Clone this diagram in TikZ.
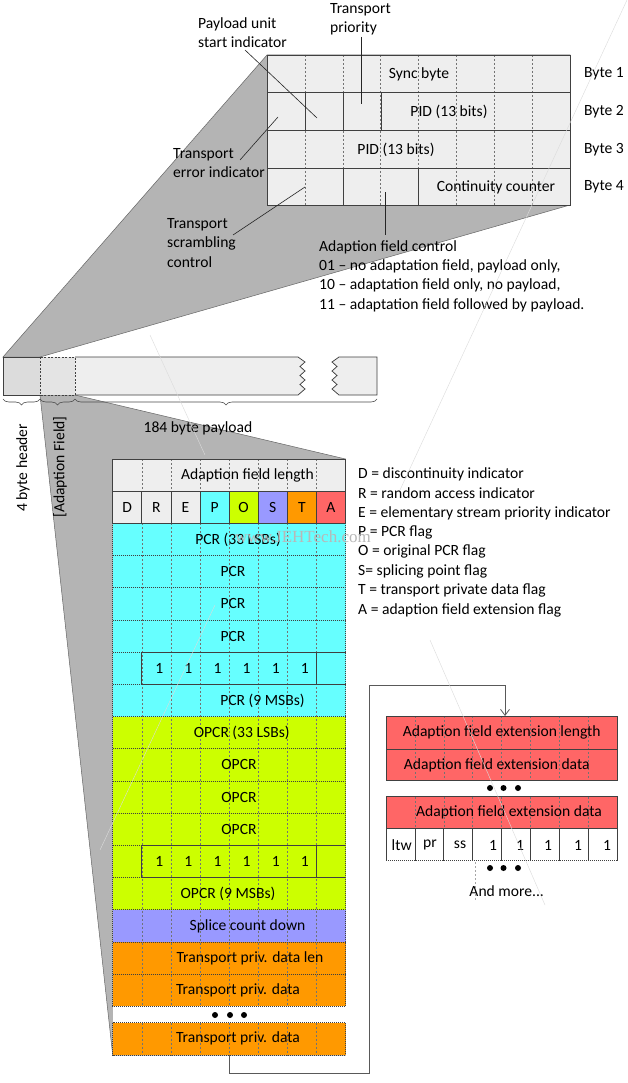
\documentclass[tikz,border=0pt]{standalone}
\usepackage{fontspec}
\setmainfont{Carlito}
\newfontfamily\wmfont{Liberation Serif}
\usetikzlibrary{decorations.pathreplacing,arrows.meta}
\definecolor{tblF}{HTML}{EEEEEE}
\definecolor{greyF}{HTML}{B4B4B4}
\definecolor{hdrF}{HTML}{DCDCDC}
\definecolor{afF}{HTML}{E4E4E4}
\definecolor{cyanF}{HTML}{66FFFF}
\definecolor{limeF}{HTML}{CCFF00}
\definecolor{lavF}{HTML}{9999FF}
\definecolor{orF}{HTML}{FF9900}
\definecolor{redF}{HTML}{FF6666}
\definecolor{lineC}{HTML}{404040}
\begin{document}
\begin{tikzpicture}[x=1pt,y=-1pt,
  every node/.style={inner sep=0pt, font=\fontsize{15.6}{19.3}\selectfont},
  lbl/.style={align=left, anchor=west},
  solidln/.style={draw=lineC, line width=0.75pt},
  colln/.style={draw=black!55, line width=0.5pt, dash pattern=on 2pt off 2pt},
  rowln/.style={draw=black!75, line width=0.7pt, dash pattern=on 1pt off 1pt},
  annot/.style={draw=black!85, line width=0.6pt},
  brc/.style={draw=black!70, line width=0.6pt, decorate, decoration={brace, amplitude=6pt, mirror}},
  conn/.style={draw=black!65, line width=0.8pt, -{Straight Barb[length=6pt,width=9pt]}},
  dotc/.style={circle, fill=black, minimum size=6pt, inner sep=0pt},
  polyln/.style={fill=greyF, draw=black!60, line width=0.5pt},
  wmline/.style={draw=black!14, line width=0.4pt},
]
\useasboundingbox (0,0) rectangle (627,1083);
\fill[white] (0,0) rectangle (627,1083);

% ---------- grey projection polygons ----------
\filldraw[polyln] (3,357) -- (267,55) -- (570,55) -- (570,205) -- (40,357) -- cycle;
\filldraw[polyln] (40,395) -- (75,395) -- (345.5,459) -- (345.5,1055) -- (112.7,1055) -- cycle;

% ---------- TS header table ----------
\fill[tblF] (267,55) rectangle (570,205);
\foreach \i in {1,...,7} \draw[colln] ({267+37.875*\i},55) -- ({267+37.875*\i},205);
\foreach \y in {92.7,130.5,168.3} \draw[solidln] (267,\y) -- (570,\y);
\draw[solidln] (305,92.7) -- (305,130.5) (343,92.7) -- (343,130.5) (381,92.7) -- (381,130.5);
\draw[solidln] (343,168.3) -- (343,205) (418.5,168.3) -- (418.5,205);
\draw[solidln] (267,55) rectangle (570,205);

\node (sync) at (419,74) {Sync byte};
\node (pid1) at (449,112) {PID (13 bits)};
\node (pid2) at (396,149.5) {PID (13 bits)};
\node (cc) at (496,187) {Continuity counter};
\node (b1) at (604,74) {Byte 1};
\node (b2) at (604,112) {Byte 2};
\node (b3) at (604,150) {Byte 3};
\node (b4) at (604,187) {Byte 4};

% annotations
\node[lbl] (pusi) at (198,32.5) {Payload unit\\start indicator};
\node[lbl] (tprio) at (330,19.5) {Transport\\priority};
\node[lbl] (tei) at (173,163) {Transport\\error indicator};
\node[lbl] (tsc) at (167,243) {Transport\\scrambling\\control};
\node[lbl] (afc) at (319,276) {Adaption field control\\01 -- no adaptation field, payload only,\\10 -- adaptation field only, no payload,\\11 -- adaptation field followed by payload.};
\coordinate (pusiA) at (245,50);  \coordinate (pusiB) at (317,118);
\coordinate (tprA) at (361.7,37); \coordinate (tprB) at (361.7,104);
\coordinate (teiA) at (240,160);  \coordinate (teiB) at (278,117);
\coordinate (tscA) at (233,235);  \coordinate (tscB) at (305,187);
\coordinate (afcA) at (385,235);  \coordinate (afcB) at (385,192);
\draw[annot] (pusiA) -- (pusiB);
\draw[annot] (tprA) -- (tprB);
\draw[annot] (teiA) -- (teiB);
\draw[annot] (tscA) -- (tscB);
\draw[annot] (afcA) -- (afcB);

% ---------- packet bar ----------
\filldraw[fill=hdrF, solidln] (3,357) rectangle (40,395);
\fill[afF] (40,357) rectangle (75,395);
\filldraw[fill=tblF, draw=lineC, line width=0.75pt] (75,357) -- (298,357) -- (305,362) -- (300,366.5) -- (305,371) -- (300,375.5) -- (305,380) -- (300,384.5) -- (305,389) -- (298,395) -- (75,395);
\filldraw[fill=tblF, draw=lineC, line width=0.75pt] (339,357) -- (377,357) -- (377,395) -- (339,395) -- (332,389) -- (337,384.5) -- (332,380) -- (337,375.5) -- (332,371) -- (337,366.5) -- (332,362) -- cycle;
\draw[draw=black!75, line width=0.6pt, dash pattern=on 2pt off 1.5pt] (40,357) rectangle (75,395);

\draw[brc] (3,399) -- (40,399);
\draw[brc] (40,399) -- (75,399);
\draw[brc] (75,399) -- (377,399);
\node[rotate=90] (hdrlbl) at (23,468) {4 byte header};
\node[rotate=90] (aflbl) at (60,467) {[Adaption Field]};
\node (pllbl) at (198,428) {184 byte payload};

% ---------- adaptation field table ----------
\fill[tblF] (112.7,459) rectangle (345.5,491.2);
\foreach \l/\c [count=\i from 0] in {D/tblF,R/tblF,E/tblF,P/cyanF,O/limeF,S/lavF,T/orF,A/redF}{
  \fill[\c] ({112.7+29.1*\i},491.2) rectangle ({112.7+29.1*(\i+1)},523.4);
  \node (flag\l) at ({112.7+29.1*(\i+0.5)},507.3) {\l};
}
\fill[cyanF] (112.7,523.4) rectangle (345.5,716.6);
\fill[limeF] (112.7,716.6) rectangle (345.5,909.8);
\fill[lavF] (112.7,909.8) rectangle (345.5,942);
\fill[orF] (112.7,942) rectangle (345.5,1006.4);
\fill[white] (112.7,1006.4) rectangle (345.5,1022.7);
\fill[orF] (112.7,1022.7) rectangle (345.5,1055);

\foreach \i in {1,...,7}{
  \draw[colln] ({112.7+29.1*\i},459) -- ({112.7+29.1*\i},491.2);
  \draw[colln] ({112.7+29.1*\i},523.4) -- ({112.7+29.1*\i},1006.4);
  \draw[colln] ({112.7+29.1*\i},1022.7) -- ({112.7+29.1*\i},1055);
  \draw[solidln] ({112.7+29.1*\i},491.2) -- ({112.7+29.1*\i},523.4);
}
\foreach \r in {3,...,16} \draw[rowln] (112.7,{459+32.2*\r}) -- (345.5,{459+32.2*\r});
\draw[rowln] (112.7,523.4) rectangle (345.5,1006.4);
\draw[rowln] (112.7,1022.7) rectangle (345.5,1055);
\draw[solidln] (112.7,459) rectangle (345.5,523.4);
\draw[solidln] (112.7,491.2) -- (345.5,491.2);
% reserved bits rows
\foreach \y in {652.2,845.4}{
  \draw[solidln] (141.8,\y) -- (345.5,\y) (141.8,\y+32.2) -- (345.5,\y+32.2)
     (141.8,\y) -- (141.8,\y+32.2) (316.4,\y) -- (316.4,\y+32.2);
}
\foreach \i in {1,...,6}{
  \node (pcrres\i) at ({112.7+29.1*(\i+0.5)+3},668.5) {1};
  \node (opcrres\i) at ({112.7+29.1*(\i+0.5)+3},861.5) {1};
}

\node (afl) at (247.5,475) {Adaption field length};
\node (pcr33) at (238,539.5) {PCR (33 LSBs)};
\node (pcra) at (233,571.7) {PCR};
\node (pcrb) at (233,603.9) {PCR};
\node (pcrc) at (233,636.1) {PCR};
\node (pcr9) at (262.5,700.5) {PCR (9 MSBs)};
\node (opcr33) at (241.7,732.7) {OPCR (33 LSBs)};
\node (opcra) at (239,764.9) {OPCR};
\node (opcrb) at (239,797.1) {OPCR};
\node (opcrc) at (239,829.3) {OPCR};
\node (opcr9) at (228,893.7) {OPCR (9 MSBs)};
\node (splice) at (247.5,925.9) {Splice count down};
\node (tpdl) at (250,958.1) {Transport priv. data len};
\node (tpd1) at (238,990.3) {Transport priv. data};
\node (tpd2) at (238,1038.8) {Transport priv. data};
\node[dotc] (tdot1) at (215,1015) {};
\node[dotc] (tdot2) at (230,1015) {};
\node[dotc] (tdot3) at (244,1015) {};

% legend
\foreach \t [count=\k from 0] in {D = discontinuity indicator, R = random access indicator, E = elementary stream priority indicator, P = PCR flag, O = original PCR flag, S= splicing point flag, T = transport private data flag, A = adaption field extension flag}
  \node[anchor=west] (leg\k) at (358,{474+19.45*\k}) {\t};

% ---------- adaptation field extension ----------
\fill[redF] (386,716) rectangle (617,780.5);
\fill[redF] (386,796.7) rectangle (617,828.5);
\fill[white] (386,828.5) rectangle (617,860.7);
\foreach \i in {1,...,7}{
  \draw[colln] ({386+28.875*\i},716) -- ({386+28.875*\i},780.5);
  \draw[colln] ({386+28.875*\i},796.7) -- ({386+28.875*\i},828.5);
  \draw[solidln] ({386+28.875*\i},828.5) -- ({386+28.875*\i},860.7);
}
\draw[solidln] (386,716) rectangle (617,780.5);
\draw[solidln] (386,749) -- (617,749);
\draw[solidln] (386,796.7) rectangle (617,828.5);
\draw[solidln] (386,828.5) -- (386,860.7) (617,828.5) -- (617,860.7);
\draw[rowln] (386,860.7) -- (617,860.7);
\draw[colln, draw=black!35] (475,862) -- (475,900);

\node (afel) at (501.7,732.5) {Adaption field extension length};
\node (afed1) at (496.7,765) {Adaption field extension data};
\node (afed2) at (509,812.5) {Adaption field extension data};
\node (ltw) at (401.7,845) {ltw};
\node (pr) at (430,845) {pr};
\node (ss) at (460,845) {ss};
\foreach \x [count=\k] in {493,520,548,578,607} \node (eres\k) at (\x,845.5) {1};
\node[dotc] (edot1) at (490,788) {};
\node[dotc] (edot2) at (503.5,788) {};
\node[dotc] (edot3) at (518,788) {};
\node[dotc] (fdot1) at (490,868) {};
\node[dotc] (fdot2) at (503.5,868) {};
\node[dotc] (fdot3) at (518,868) {};
\node (more) at (506.7,891) {And more...};

% ---------- connector ----------
\coordinate (lastbot) at (229.1,1055);
\coordinate (turnA) at (369.5,1073);
\coordinate (turnB) at (505,685);
\coordinate (exttop) at (505,716);
\draw[conn] (lastbot) |- (turnA) |- (turnB) -- (exttop);

% ---------- watermark ----------
\node[text=black!28, font=\wmfont\fontsize{17}{20}\selectfont] (wm) at (303,537) {www.JEHTech.com};
\draw[wmline] (627,0) -- (400,490);
\draw[wmline] (215,605) -- (100,850);
\draw[wmline] (150,335) -- (205,455);
\draw[wmline] (430,640) -- (545,905);
\end{tikzpicture}
\end{document}
